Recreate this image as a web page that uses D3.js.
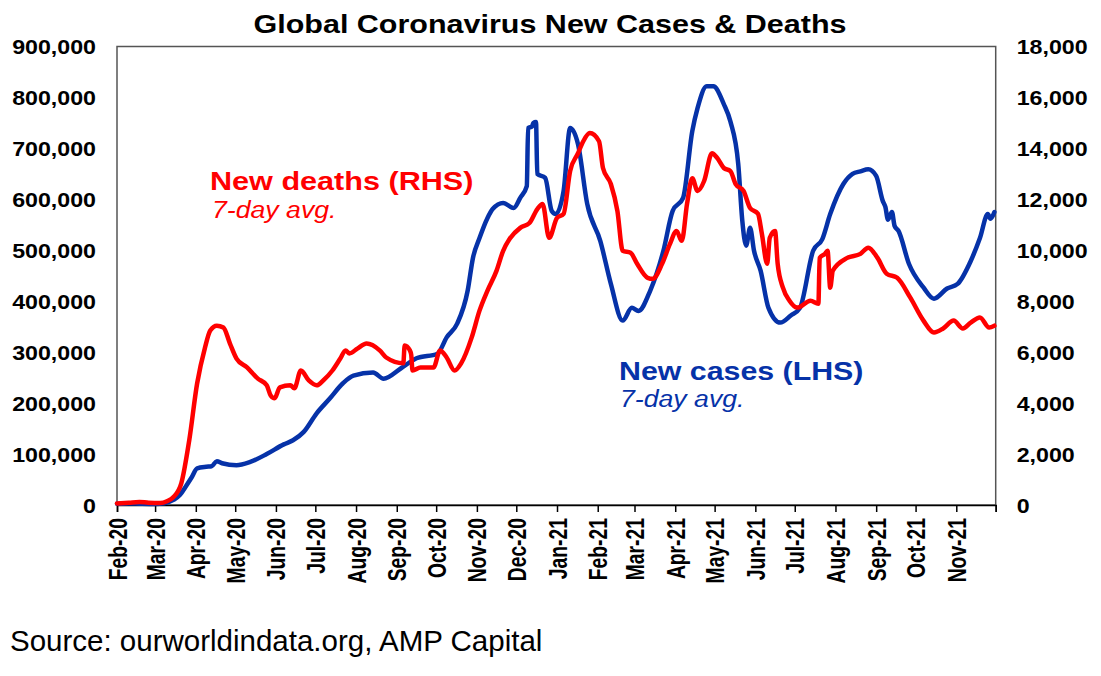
<!DOCTYPE html>
<html>
<head>
<meta charset="utf-8">
<script src="https://cdn.jsdelivr.net/npm/d3@7"></script>
<style>
  html, body { margin: 0; padding: 0; background: #fff; }
  svg { display: block; }
  text { font-family: "Liberation Sans", Arial, Helvetica, sans-serif; }
</style>
</head>
<body>
<svg id="chart" width="1101" height="676"></svg>
<script>
// ---------- DATA ----------
const title = "Global Coronavirus New Cases & Deaths";
const sourceText = "Source: ourworldindata.org, AMP Capital";

const monthTicks = ["2020-02-01","2020-03-01","2020-04-01","2020-05-01","2020-06-01","2020-07-01",
  "2020-08-01","2020-09-01","2020-10-01","2020-11-01","2020-12-01","2021-01-01","2021-02-01",
  "2021-03-01","2021-04-01","2021-05-01","2021-06-01","2021-07-01","2021-08-01","2021-09-01",
  "2021-10-01","2021-11-01","2021-12-01"];
const monthLabels = ["Feb-20","Mar-20","Apr-20","May-20","Jun-20","Jul-20","Aug-20","Sep-20","Oct-20",
  "Nov-20","Dec-20","Jan-21","Feb-21","Mar-21","Apr-21","May-21","Jun-21","Jul-21","Aug-21","Sep-21",
  "Oct-21","Nov-21",""];

const leftTicks = [0,100000,200000,300000,400000,500000,600000,700000,800000,900000];
const rightTicks = [0,2000,4000,6000,8000,10000,12000,14000,16000,18000];

// New cases, 7-day avg (LHS)
const casesDates = ["2020-02-01","2020-02-10","2020-02-18","2020-03-01","2020-03-08","2020-03-15","2020-03-20",
  "2020-03-24","2020-03-29","2020-04-02","2020-04-09","2020-04-13","2020-04-17","2020-04-21","2020-05-02",
  "2020-05-12","2020-05-25","2020-06-07","2020-06-14","2020-06-22","2020-07-02","2020-07-12","2020-07-22",
  "2020-07-30","2020-08-14","2020-08-22","2020-09-04","2020-09-16","2020-10-02","2020-10-09","2020-10-17",
  "2020-10-25","2020-10-29","2020-11-03","2020-11-09","2020-11-13","2020-11-21","2020-11-29","2020-12-04",
  "2020-12-09","2020-12-10","2020-12-13","2020-12-14","2020-12-16","2020-12-17","2020-12-23","2020-12-28",
  "2020-12-31","2021-01-06","2021-01-11","2021-01-17","2021-01-24","2021-02-03","2021-02-11","2021-02-20",
  "2021-02-27","2021-03-04","2021-03-13","2021-03-23","2021-03-30","2021-04-07","2021-04-14","2021-04-18",
  "2021-04-25","2021-04-30","2021-05-08","2021-05-13","2021-05-19","2021-05-22","2021-05-25","2021-05-28",
  "2021-05-31","2021-06-05","2021-06-11","2021-06-20","2021-06-28","2021-07-05","2021-07-15","2021-07-22",
  "2021-07-28","2021-08-07","2021-08-14","2021-08-20","2021-08-26","2021-09-01","2021-09-06","2021-09-08",
  "2021-09-10","2021-09-13","2021-09-15","2021-09-18","2021-09-26","2021-10-07","2021-10-15","2021-10-25",
  "2021-11-02","2021-11-12","2021-11-19","2021-11-25","2021-11-27","2021-11-30"];
const casesValues = [2500,3000,2500,2000,3500,10000,20000,
  35000,55000,72000,75000,76000,86000,82000,78000,
  84000,100000,119000,127000,143000,180000,209000,239000,
  254000,260000,248000,268000,288000,297000,329000,356000,
  421000,485000,524000,563000,581000,593000,583000,603000,
  626000,740000,743000,750000,752000,650000,642000,577000,
  571000,616000,740000,708000,591000,518000,434000,362000,
  387000,381000,421000,499000,577000,603000,734000,779000,
  822000,822000,787000,753000,669000,560000,509000,544000,
  499000,460000,387000,358000,372000,387000,499000,522000,
  571000,630000,650000,655000,659000,646000,597000,585000,
  560000,575000,548000,538000,473000,427000,405000,425000,
  434000,479000,524000,571000,562000,575000];

// New deaths, 7-day avg (RHS)
const deathsDates = ["2020-02-01","2020-02-10","2020-02-18","2020-02-25","2020-03-05","2020-03-10","2020-03-15",
  "2020-03-21","2020-03-27","2020-04-02","2020-04-08","2020-04-12","2020-04-17","2020-04-22","2020-04-27",
  "2020-05-02","2020-05-10","2020-05-18","2020-05-25","2020-05-28","2020-05-31","2020-06-04","2020-06-12",
  "2020-06-15","2020-06-20","2020-06-26","2020-07-02","2020-07-07","2020-07-14","2020-07-20","2020-07-24",
  "2020-07-27","2020-08-02","2020-08-09","2020-08-19","2020-08-24","2020-09-06","2020-09-07","2020-09-11",
  "2020-09-12","2020-09-13","2020-09-19","2020-09-29","2020-10-04","2020-10-09","2020-10-15","2020-10-20",
  "2020-10-28","2020-11-03","2020-11-09","2020-11-16","2020-11-21","2020-11-26","2020-12-04","2020-12-11",
  "2020-12-17","2020-12-21","2020-12-26","2021-01-01","2021-01-06","2021-01-11","2021-01-17","2021-01-21",
  "2021-01-26","2021-02-02","2021-02-05","2021-02-11","2021-02-16","2021-02-20","2021-02-26","2021-03-03",
  "2021-03-11","2021-03-15","2021-03-22","2021-03-28","2021-04-02","2021-04-06","2021-04-10","2021-04-14",
  "2021-04-18","2021-04-23","2021-04-29","2021-05-03","2021-05-08","2021-05-13","2021-05-17","2021-05-23",
  "2021-05-28","2021-06-03","2021-06-06","2021-06-10","2021-06-12","2021-06-16","2021-06-18","2021-06-22",
  "2021-06-27","2021-07-03","2021-07-13","2021-07-19","2021-07-20","2021-07-24","2021-07-26","2021-07-28",
  "2021-07-30","2021-08-10","2021-08-20","2021-08-26","2021-09-02","2021-09-09","2021-09-17","2021-09-27",
  "2021-10-07","2021-10-15","2021-10-22","2021-10-30","2021-11-06","2021-11-12","2021-11-19","2021-11-26",
  "2021-11-30"];
const deathsValues = [60,90,120,90,80,150,313,
  860,2540,4770,6180,6850,7040,6970,6340,
  5750,5400,4970,4700,4300,4190,4620,4700,
  4580,5280,4890,4700,4890,5280,5750,6070,
  5950,6140,6340,6070,5790,5560,6260,6070,
  5900,5280,5400,5400,6070,5790,5280,5560,
  6570,7630,8410,9200,9980,10450,10880,11070,
  11620,11820,10490,11270,11430,13110,13810,14280,
  14600,14280,13230,12600,11540,9980,9900,9470,
  8920,8880,9470,10250,10760,10370,11820,12830,
  12330,12720,13810,13620,13230,13110,12600,12330,
  11660,11430,10640,9470,10490,10760,9470,8530,
  8020,7750,8020,7900,9700,9860,9980,8530,
  9200,9700,9860,10100,9700,9080,8920,8140,
  7240,6770,6930,7240,6930,7160,7360,6970,
  7040];

// ---------- CHART ----------
const svg = d3.select("#chart");
const parse = d3.utcParse("%Y-%m-%d");
const L = 117, R = 995.7, T = 46.5, B = 505;
const BLUE = "#0632A8", RED = "#FF0000";
const SX = 1.19;

const x = d3.scaleUtc().domain([parse("2020-02-01"), parse("2021-12-01")]).range([L, R]);
const yL = d3.scaleLinear().domain([0, 900000]).range([B, T]);
const yR = d3.scaleLinear().domain([0, 18000]).range([B, T]);

const fmt = d3.format(",");

// frame
svg.append("rect").attr("x", L).attr("y", T).attr("width", R - L).attr("height", B - T)
  .attr("fill", "none").attr("stroke", "#555").attr("stroke-width", 1.5);

// x axis
const xAxis = svg.append("g").attr("transform", `translate(0,${B})`)
  .call(d3.axisBottom(x).tickValues(monthTicks.map(parse)).tickSize(7)
    .tickFormat((d, i) => monthLabels[i]));
xAxis.select(".domain").attr("stroke", "#000").attr("stroke-width", 1.5);
xAxis.selectAll(".tick line").attr("stroke", "#000").attr("stroke-width", 1.5);
xAxis.selectAll(".tick text")
  .attr("x", 0).attr("y", 0).attr("dy", "0.36em")
  .attr("transform", `translate(0,13) scale(1.3,1) rotate(-90)`)
  .attr("text-anchor", "end")
  .attr("fill", "#000")
  .style("font-size", "19.3px").style("font-weight", "bold")
  .style("font-family", '"Liberation Sans", Arial, sans-serif');

// left axis
const yAxisL = svg.append("g").attr("transform", `translate(${L},0)`)
  .call(d3.axisLeft(yL).tickValues(leftTicks).tickSize(0).tickFormat(fmt));
yAxisL.select(".domain").remove();
yAxisL.selectAll(".tick text")
  .attr("x", 0).attr("dy", "0.36em")
  .attr("transform", `translate(-21,0) scale(${SX},1)`)
  .attr("text-anchor", "end").attr("fill", "#000")
  .style("font-size", "19.5px").style("font-weight", "bold")
  .style("font-family", '"Liberation Sans", Arial, sans-serif');

// right axis
const yAxisR = svg.append("g").attr("transform", `translate(${R},0)`)
  .call(d3.axisRight(yR).tickValues(rightTicks).tickSize(0).tickFormat(fmt));
yAxisR.select(".domain").remove();
yAxisR.selectAll(".tick text")
  .attr("x", 0).attr("dy", "0.36em")
  .attr("transform", `translate(21,0) scale(${SX},1)`)
  .attr("text-anchor", "start").attr("fill", "#000")
  .style("font-size", "19.5px").style("font-weight", "bold")
  .style("font-family", '"Liberation Sans", Arial, sans-serif');

// lines
const cases = casesDates.map((d, i) => ({ date: parse(d), v: casesValues[i] }));
const deaths = deathsDates.map((d, i) => ({ date: parse(d), v: deathsValues[i] }));

svg.append("path").datum(cases)
  .attr("fill", "none").attr("stroke", BLUE).attr("stroke-width", 4.5)
  .attr("stroke-linejoin", "round").attr("stroke-linecap", "round")
  .attr("d", d3.line().curve(d3.curveMonotoneX).x(d => x(d.date)).y(d => yL(d.v)));

svg.append("path").datum(deaths)
  .attr("fill", "none").attr("stroke", RED).attr("stroke-width", 4.5)
  .attr("stroke-linejoin", "round").attr("stroke-linecap", "round")
  .attr("d", d3.line().curve(d3.curveMonotoneX).x(d => x(d.date)).y(d => yR(d.v)));

// texts
function stext(tx, ty, str, size, weight, style, color, sx, anchor) {
  svg.append("text")
    .attr("transform", `translate(${tx},${ty}) scale(${sx},1)`)
    .attr("text-anchor", anchor || "start")
    .attr("fill", color)
    .style("font-size", size + "px")
    .style("font-weight", weight)
    .style("font-style", style)
    .text(str);
}
stext(550, 33, title, 25, "bold", "normal", "#000", 1.22, "middle");
stext(210, 190, "New deaths (RHS)", 25.5, "bold", "normal", RED, 1.2);
stext(212, 218, "7-day avg.", 23, "normal", "italic", RED, 1.16);
stext(619, 380, "New cases (LHS)", 25.5, "bold", "normal", BLUE, 1.19);
stext(620, 406.5, "7-day avg.", 23, "normal", "italic", BLUE, 1.16);
stext(10, 651, sourceText, 29.5, "normal", "normal", "#000", 1.0);
</script>
</body>
</html>
